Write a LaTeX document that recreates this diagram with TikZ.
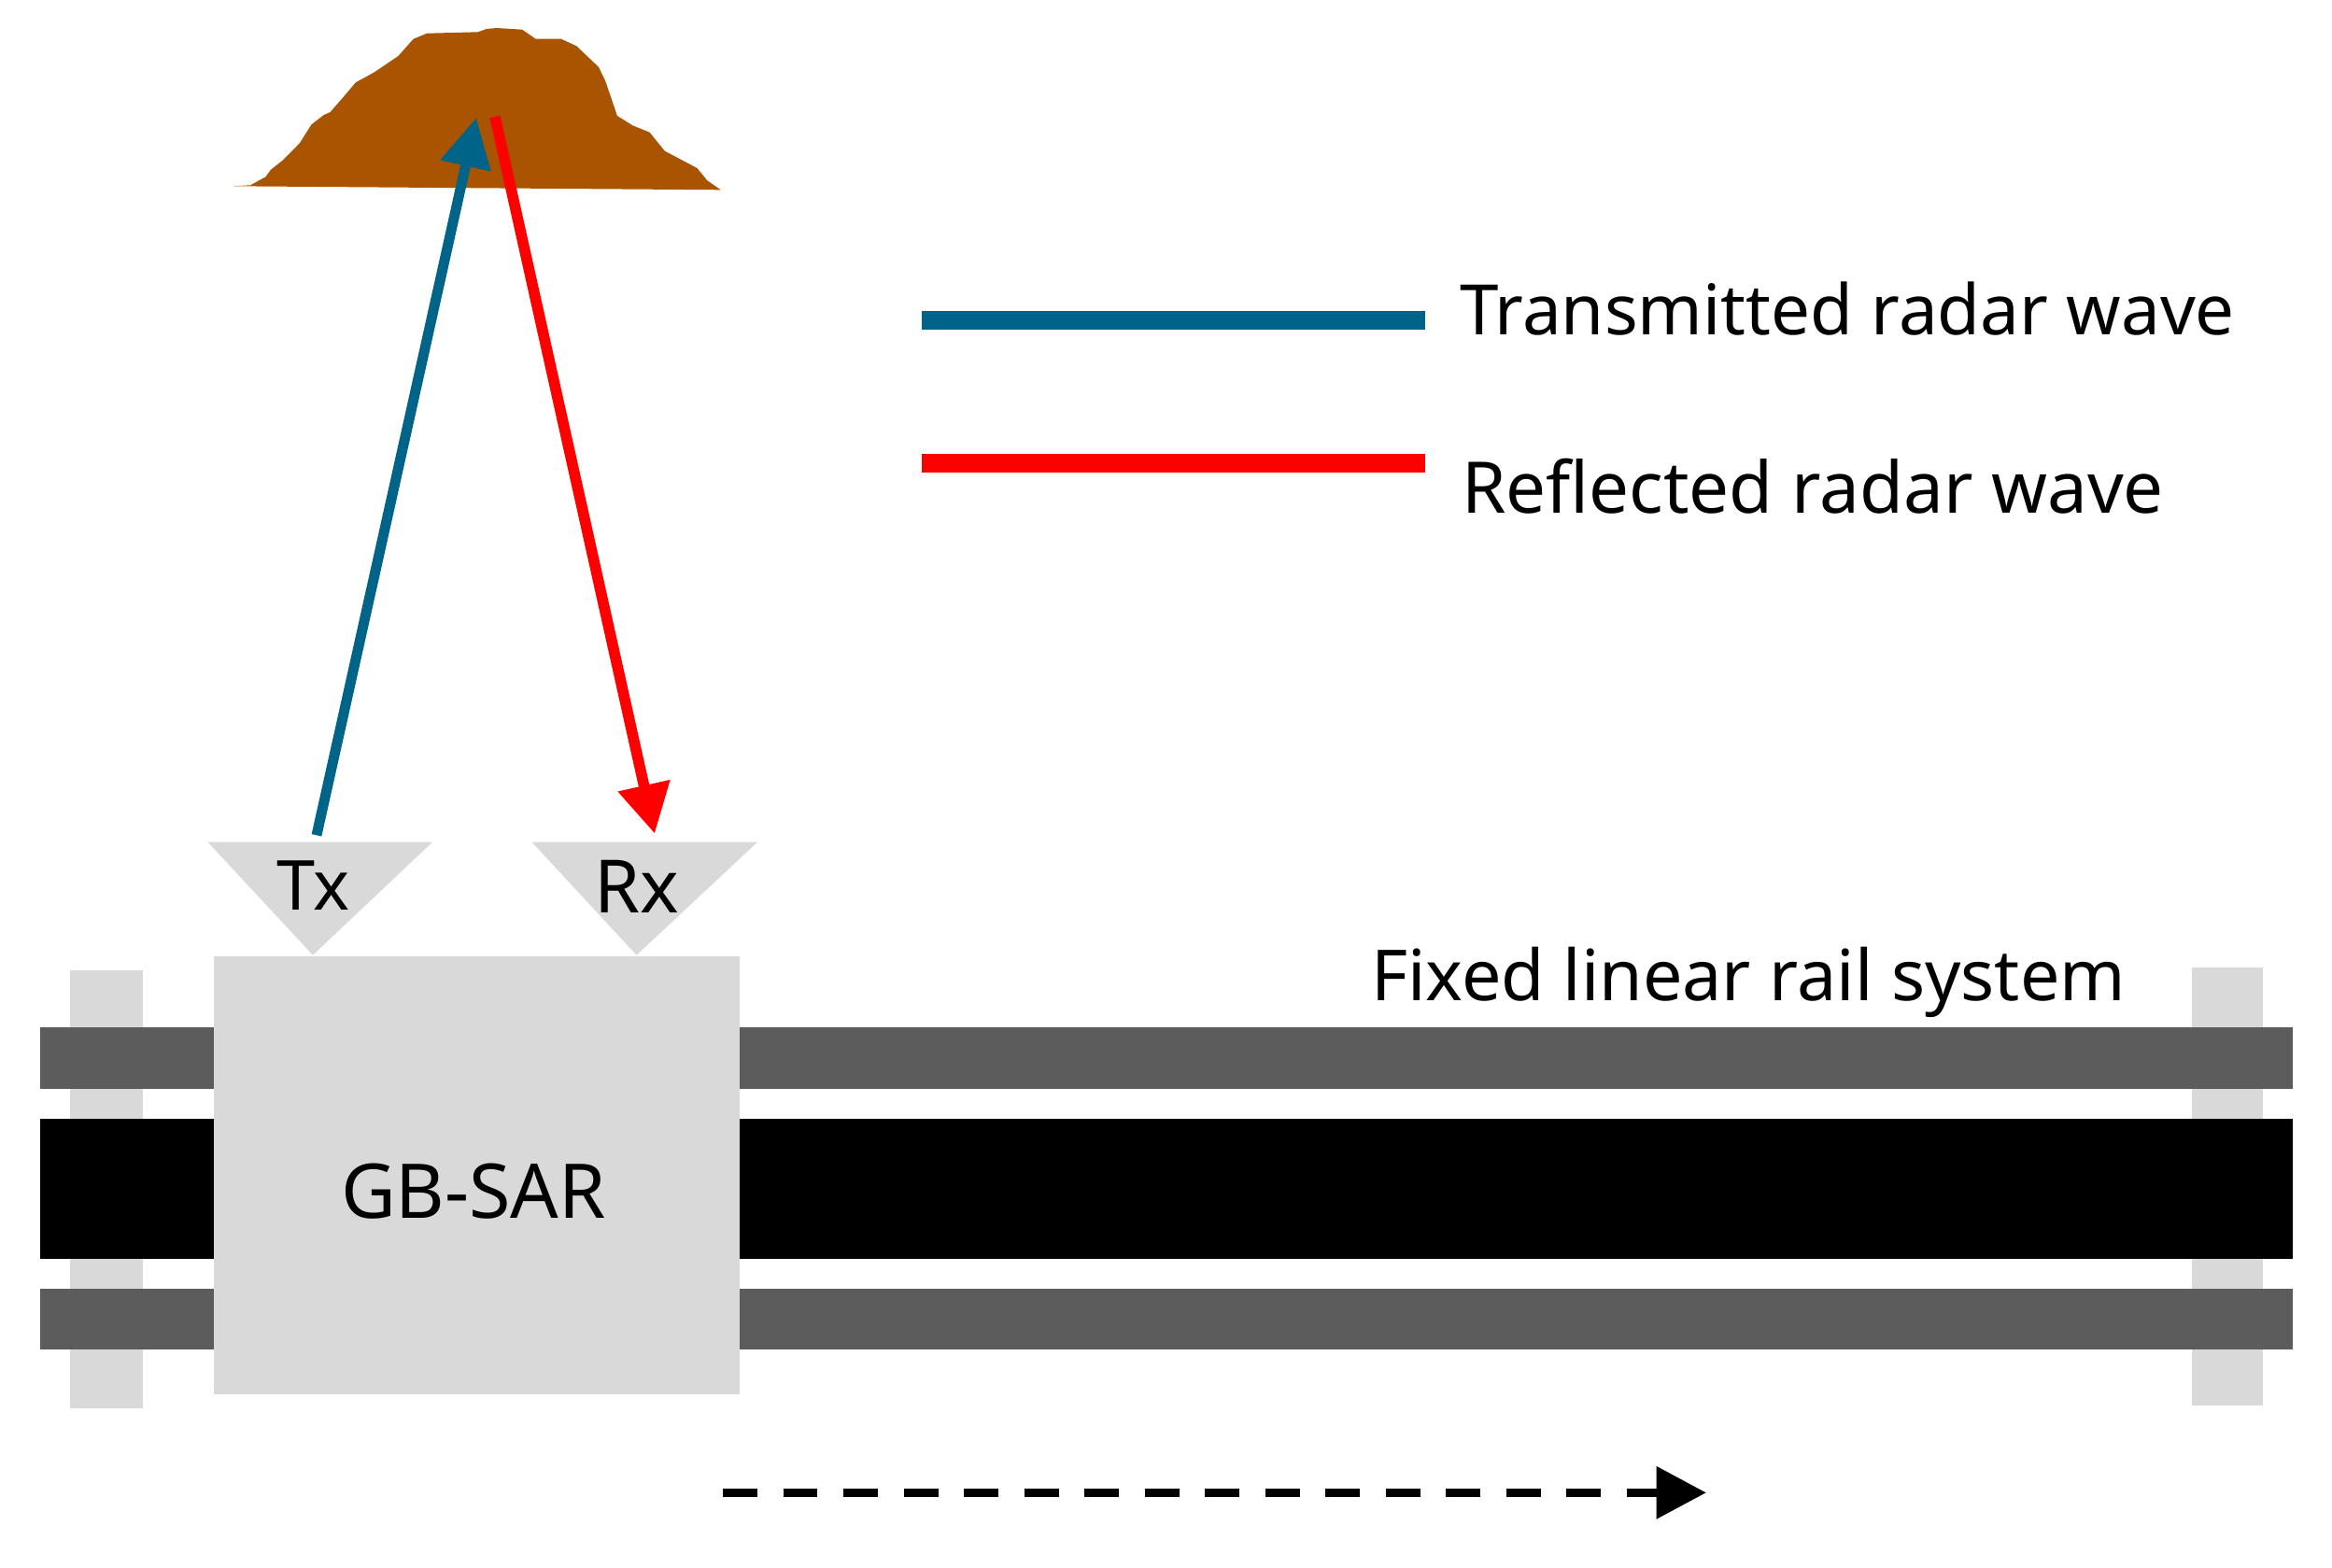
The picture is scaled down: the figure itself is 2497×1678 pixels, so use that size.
\documentclass[tikz,border=0pt]{standalone}
\usepackage{fontspec}
\setmainfont{Noto Sans}
\usetikzlibrary{arrows.meta}
\definecolor{moundc}{HTML}{A85400}
\definecolor{txc}{HTML}{006488}
\definecolor{rxc}{HTML}{FF0000}
\definecolor{lightg}{HTML}{D9D9D9}
\definecolor{darkg}{HTML}{5C5C5C}
\tikzset{
  lab/.style={anchor=base west,inner sep=0pt,outer sep=0pt,text=black},
  antlab/.style={anchor=base,inner sep=0pt,outer sep=0pt,text=black},
  txwave/.style={draw=txc,line width=3.1pt,-{Triangle[length=15pt,width=15pt]}},
  rxwave/.style={draw=rxc,line width=3.3pt,-{Triangle[length=15pt,width=15.4pt]}},
  legtx/.style={draw=txc,line width=5.7pt},
  legrx/.style={draw=rxc,line width=5.7pt},
  motion/.style={draw=black,line width=2.7pt,dash pattern=on 10.5pt off 7.85pt,-{Triangle[length=15.2pt,width=15.4pt]}},
}
\begin{document}
\begin{tikzpicture}[x=0.01cm,y=-0.01cm]
\useasboundingbox (0,0) rectangle (2497,1678);
% mound
\fill[moundc,line join=round] (250,199.3) -- (268.2,198.3) -- (284.5,189.3) -- (290,181.7) -- (302.7,171.7) -- (320.9,153.3) -- (328.2,141.7) -- (333.6,133.3) -- (346.4,123.3) -- (353.6,120) -- (368.2,103.3) -- (380.9,88.3) -- (400.9,77.3) -- (426.4,60) -- (442.7,41.7) -- (457.3,35.7) -- (511.8,34.3) -- (520.9,31) -- (531.8,30) -- (559.1,31.7) -- (573.6,41.7) -- (600.9,41.7) -- (617.3,49.3) -- (640.9,71.7) -- (648.2,86.7) -- (660.9,124) -- (677.3,134.3) -- (695.5,141.7) -- (711.8,161.7) -- (746.4,180) -- (757.3,193.3) -- (771.8,203.3) -- cycle;
% rail posts
\fill[lightg] (75,1038.5) rectangle (153,1507.5);
\fill[lightg] (2347,1036) rectangle (2423,1505);
% rails
\fill[darkg] (43,1100) rectangle (2455,1166);
\fill[black] (43,1198) rectangle (2455,1348);
\fill[darkg] (43,1380) rectangle (2455,1445);
% carriage
\fill[lightg] (229,1023.5) rectangle (792,1493);
\node[antlab,font=\fontsize{23}{27}\selectfont] (gbsarlab) at (507,1304) {GB-SAR};
% antennas
\fill[lightg] (222.5,901.7) -- (463,901.7) -- (335,1022.7) -- cycle;
\fill[lightg] (569.5,901.7) -- (811,901.7) -- (681.6,1022.7) -- cycle;
\node[antlab,font=\fontsize{21}{25}\selectfont] (txlab) at (335.5,974) {Tx};
\node[antlab,font=\fontsize{22.4}{26}\selectfont] (rxlab) at (682,977.7) {Rx};
% waves
\coordinate (txstart) at (339,894.3);
\coordinate (txend) at (510,126);
\coordinate (rxstart) at (530,125);
\coordinate (rxend) at (701,892.7);
\draw[txwave] (txstart) -- (txend);
\draw[rxwave] (rxstart) -- (rxend);
% legend
\coordinate (l1a) at (987,343);
\coordinate (l1b) at (1526,343);
\coordinate (l2a) at (987,496);
\coordinate (l2b) at (1526,496);
\draw[legtx] (l1a) -- (l1b);
\draw[legrx] (l2a) -- (l2b);
\node[lab,font=\fontsize{21.2}{25}\selectfont] (lt) at (1563,358) {Transmitted radar wave};
\node[lab,font=\fontsize{21.7}{25}\selectfont] (lr) at (1565,549) {Reflected radar wave};
\node[lab,font=\fontsize{21.45}{25}\selectfont] (lf) at (1468,1071) {Fixed linear rail system};
% motion arrow
\coordinate (ma) at (774,1598.3);
\coordinate (mb) at (1827,1598.3);
\draw[motion] (ma) -- (mb);
\end{tikzpicture}
\end{document}
